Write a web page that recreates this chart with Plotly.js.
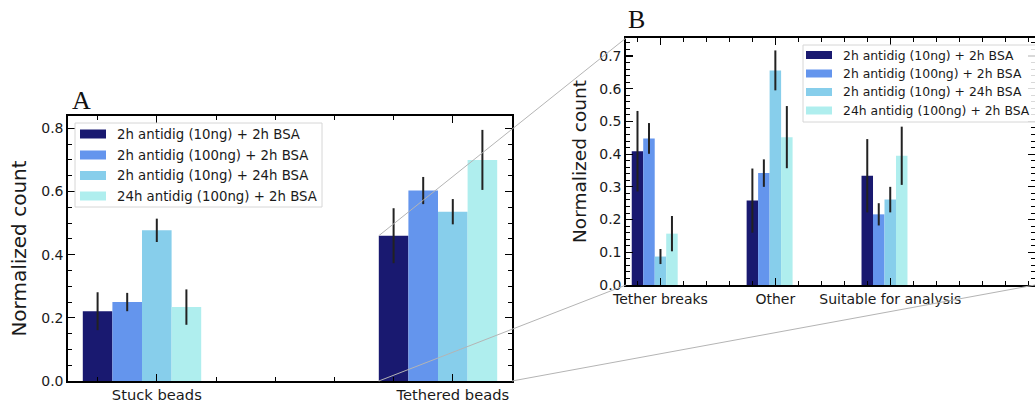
<!DOCTYPE html>
<html>
<head>
<meta charset="utf-8">
<script src="https://cdn.plot.ly/plotly-3.0.1.min.js"></script>
<style>html,body{margin:0;padding:0;background:#fff;}#chart{width:1035px;height:404px;}</style>
</head>
<body>
<div id="chart"></div>
<script>
// ---------- data ----------
const seriesNames = [
  "2h antidig (10ng) + 2h BSA",
  "2h antidig (100ng) + 2h BSA",
  "2h antidig (10ng) + 24h BSA",
  "24h antidig (100ng) + 2h BSA"
];
const seriesColors = ["#191970", "#6495ED", "#87CEEB", "#AFEEEE"];

const categoriesA = ["Stuck beads", "Tethered beads"];
const valuesA_s1 = [0.221, 0.460];
const valuesA_s2 = [0.250, 0.603];
const valuesA_s3 = [0.477, 0.536];
const valuesA_s4 = [0.234, 0.700];
const errorsA_s1 = [0.060, 0.087];
const errorsA_s2 = [0.029, 0.043];
const errorsA_s3 = [0.037, 0.040];
const errorsA_s4 = [0.056, 0.095];

const categoriesB = ["Tether breaks", "Other", "Suitable for analysis"];
const valuesB_s1 = [0.409, 0.258, 0.334];
const valuesB_s2 = [0.448, 0.342, 0.216];
const valuesB_s3 = [0.087, 0.656, 0.261];
const valuesB_s4 = [0.157, 0.452, 0.395];
const errorsB_s1 = [0.123, 0.098, 0.112];
const errorsB_s2 = [0.047, 0.042, 0.034];
const errorsB_s3 = [0.023, 0.061, 0.039];
const errorsB_s4 = [0.054, 0.095, 0.089];

// region of panel A that is magnified in panel B (data coords of A)
const insetBox = {x0: 0.75, x1: 1.2, y0: 0, y1: 0.46};

// ---------- layout helpers ----------
const W = 1035, H = 404;
const px = x => x / W;
const py = y => 1 - y / H;

const barWidth = 0.1;
const barOffsets = [-0.25, -0.15, -0.05, 0.05];

const valsA = [valuesA_s1, valuesA_s2, valuesA_s3, valuesA_s4];
const errsA = [errorsA_s1, errorsA_s2, errorsA_s3, errorsA_s4];
const valsB = [valuesB_s1, valuesB_s2, valuesB_s3, valuesB_s4];
const errsB = [errorsB_s1, errorsB_s2, errorsB_s3, errorsB_s4];

const traces = [];
function addPanel(cats, vals, errs, xa, ya) {
  const xs = cats.map((c, i) => i);
  vals.forEach((v, k) => {
    traces.push({
      type: "bar", x: xs, y: v, xaxis: xa, yaxis: ya,
      name: seriesNames[k], showlegend: false,
      width: barWidth, offset: barOffsets[k],
      marker: {color: seriesColors[k], line: {width: 0}},
      error_y: {type: "data", array: errs[k], visible: true, color: "#222", thickness: 2, width: 0},
      hoverinfo: "y"
    });
  });
}
addPanel(categoriesA, valsA, errsA, "x", "y");
addPanel(categoriesB, valsB, errsB, "x2", "y2");

const domA = {x: [px(68), px(512)], y: [py(381), py(116)]};
const domB = {x: [px(626), 1], y: [py(285), py(38)]};
const rangeAx = [-0.3, 1.2], rangeAy = [0, 0.839];
const rangeBx = [-0.3, 3.26], rangeBy = [0, 0.755];

const font = "DejaVu Sans, sans-serif";

function xAxis(dom, rng, cats, anchor, fsize) {
  return {
    domain: dom, range: rng, anchor: anchor,
    tickmode: "array", tickvals: cats.map((c, i) => i), ticktext: cats,
    ticks: "inside", ticklen: 7, tickwidth: 1.2, tickcolor: "#000",
    showline: true, linecolor: "#000", linewidth: 1.7, mirror: "allticks",
    showgrid: false, zeroline: false, tickfont: {family: font, size: fsize, color: "#1a1a1a"},
    minor: {dtick: 0.2, tick0: 0, ticks: "inside", ticklen: 4, tickwidth: 1, tickcolor: "#000", showgrid: false},
    fixedrange: true
  };
}
function yAxis(dom, rng, dtick, minor, anchor, titleSize, standoff) {
  return {
    domain: dom, range: rng, anchor: anchor,
    dtick: dtick, tick0: 0, tickformat: ".1f",
    ticks: "inside", ticklen: 7, tickwidth: 1.2, tickcolor: "#000",
    showline: true, linecolor: "#000", linewidth: 1.7, mirror: "allticks",
    showgrid: false, zeroline: false, tickfont: {family: font, size: 14, color: "#1a1a1a"},
    minor: {dtick: minor, tick0: 0, ticks: "inside", ticklen: 4, tickwidth: 1, tickcolor: "#000", showgrid: false},
    title: {text: "Normalized count", font: {family: font, size: titleSize, color: "#1a1a1a"}, standoff: standoff},
    fixedrange: true
  };
}

// ---------- custom legends ----------
const shapes = [];
const annotations = [];
function addLegend(box, swX0, swX1, textX, rows, swH, fsize) {
  shapes.push({type: "rect", xref: "paper", yref: "paper",
    x0: px(box[0]), x1: px(box[2]), y0: py(box[3]), y1: py(box[1]),
    line: {color: "#d6d6d6", width: 1}, fillcolor: "rgba(255,255,255,0.85)", layer: "above"});
  seriesNames.forEach((n, k) => {
    const yc = rows[k];
    shapes.push({type: "rect", xref: "paper", yref: "paper",
      x0: px(swX0), x1: px(swX1), y0: py(yc + swH / 2), y1: py(yc - swH / 2),
      line: {width: 0}, fillcolor: seriesColors[k], layer: "above"});
    annotations.push({xref: "paper", yref: "paper", x: px(textX), y: py(yc),
      xanchor: "left", yanchor: "middle", showarrow: false, text: n,
      font: {family: font, size: fsize, color: "#1a1a1a"}});
  });
}
addLegend([75, 123, 322, 207], 80, 106, 115, [134, 155, 175.5, 196], 9, 13.3);
addLegend([803, 45, 1040, 122], 806, 832, 841, [55, 73.5, 92, 110.5], 8, 12.4);

// ---------- zoom indicator lines ----------
function aToPaper(xv, yv) {
  const fx = (xv - rangeAx[0]) / (rangeAx[1] - rangeAx[0]);
  const fy = (yv - rangeAy[0]) / (rangeAy[1] - rangeAy[0]);
  return [domA.x[0] + fx * (domA.x[1] - domA.x[0]), domA.y[0] + fy * (domA.y[1] - domA.y[0])];
}
const connectors = [
  [aToPaper(insetBox.x0, insetBox.y1), [domB.x[0], domB.y[1]]],
  [aToPaper(insetBox.x0, insetBox.y0), [domB.x[0], domB.y[0]]],
  [aToPaper(insetBox.x1, insetBox.y0), [domB.x[1], domB.y[0]]]
];
connectors.forEach(c => {
  shapes.push({type: "line", xref: "paper", yref: "paper",
    x0: c[0][0], y0: c[0][1], x1: c[1][0], y1: c[1][1],
    line: {color: "#b4b4b4", width: 1}, layer: "above"});
});

// panel letters
annotations.push({xref: "paper", yref: "paper", x: px(81), y: py(100), xanchor: "center", yanchor: "middle",
  showarrow: false, text: "A", font: {family: "Liberation Serif, serif", size: 26, color: "#111"}});
annotations.push({xref: "paper", yref: "paper", x: px(636), y: py(19), xanchor: "center", yanchor: "middle",
  showarrow: false, text: "B", font: {family: "Liberation Serif, serif", size: 26, color: "#111"}});

const layout = {
  width: W, height: H,
  margin: {l: 0, r: 0, t: 0, b: 0},
  paper_bgcolor: "#fff", plot_bgcolor: "rgba(0,0,0,0)",
  barmode: "overlay", showlegend: false,
  font: {family: font, color: "#1a1a1a"},
  xaxis: xAxis(domA.x, rangeAx, categoriesA, "y", 14.7),
  yaxis: yAxis(domA.y, rangeAy, 0.2, 0.05, "x", 20, 9),
  xaxis2: xAxis(domB.x, rangeBx, categoriesB, "y2", 14),
  yaxis2: yAxis(domB.y, rangeBy, 0.1, 0.02, "x2", 18.5, 8),
  shapes: shapes,
  annotations: annotations
};

Plotly.newPlot("chart", traces, layout, {displayModeBar: false, staticPlot: true});
</script>
</body>
</html>
